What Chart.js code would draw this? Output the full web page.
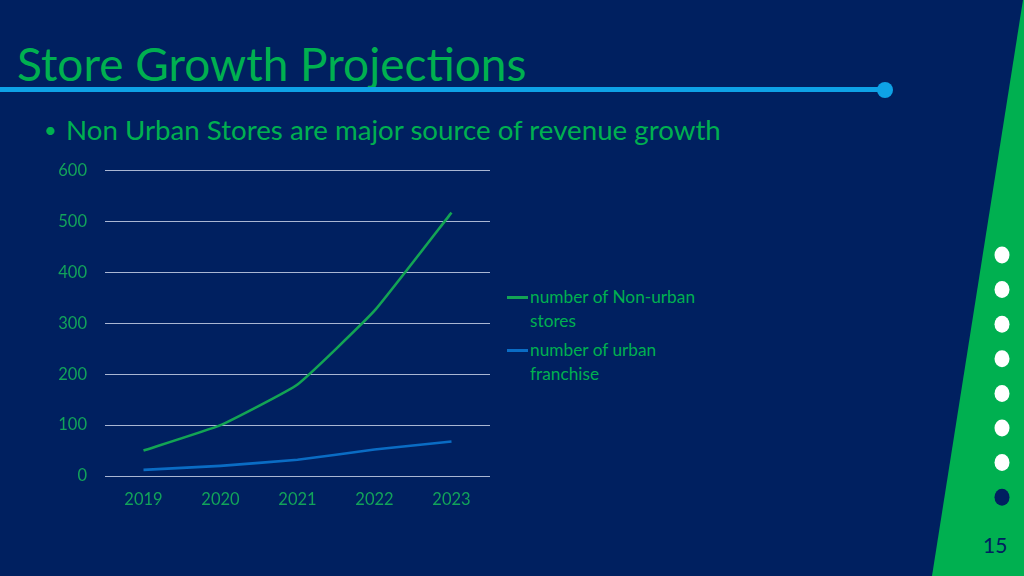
<!DOCTYPE html>
<html>
<head>
<meta charset="utf-8">
<script src="https://cdn.jsdelivr.net/npm/chart.js@4/dist/chart.umd.min.js"></script>
<style>
  html, body { margin: 0; padding: 0; }
  body { width: 1024px; height: 576px; background: #002060; position: relative; overflow: hidden; font-family: Lato, "Open Sans", sans-serif; }
  .title { position: absolute; left: 17px; top: 36px; font-size: 46px; color: #00b050; white-space: nowrap; line-height: 56px; }
  .rule { position: absolute; left: 0; top: 87px; width: 885px; height: 5px; background: #0ea2e6; }
  .knob { position: absolute; left: 877px; top: 82px; width: 16px; height: 16px; border-radius: 50%; background: #0ea2e6; }
  .bullet { position: absolute; left: 44px; top: 113px; font-size: 27.7px; color: #00b050; white-space: nowrap; line-height: 34px; }
  .bullet span { display: inline-block; width: 22px; font-size: 22px; vertical-align: 2px; }
  #wrap { position: absolute; left: 40px; top: 143px; width: 460px; height: 377px; }
  #legend { position: absolute; left: 507px; top: 285px; width: 220px; font-size: 17.3px; color: #00b050; }
  .item { position: relative; padding-left: 23px; line-height: 24px; margin-bottom: 5px; white-space: nowrap; }
  .item i { position: absolute; left: 0; top: 11px; width: 21px; height: 3px; }
  #side { position: absolute; left: 0; top: 0; }
  .pg { position: absolute; left: 983px; top: 532px; font-size: 21px; color: #002060; }
</style>
</head>
<body>
<svg id="side" width="1024" height="576">
  <polygon points="1023,0 1024,0 1024,576 932,576" fill="#00b050"/>
</svg>
<div class="title">Store Growth Projections</div>
<div class="rule"></div>
<div class="knob"></div>
<div class="bullet"><span>•</span>Non Urban Stores are major source of revenue growth</div>
<div id="wrap"><canvas id="growthChart"></canvas></div>
<div id="legend"></div>
<div class="pg">15</div>
<script>
  const years = ['2019', '2020', '2021', '2022', '2023'];
  const nonUrbanStores = [50, 100, 180, 325, 518];
  const urbanFranchise = [12, 20, 32, 52, 68];
  const seriesNames = ['number of Non-urban stores', 'number of urban franchise'];
  const seriesColors = ['#13a454', '#0a6cc4'];
  const navDots = [0, 0, 0, 0, 0, 0, 0, 1];

  // right-hand navigation dots
  const svg = document.getElementById('side');
  navDots.forEach((on, i) => {
    const c = document.createElementNS('http://www.w3.org/2000/svg', 'ellipse');
    c.setAttribute('cx', 1002);
    c.setAttribute('cy', 255 + i * 34.6);
    c.setAttribute('rx', 7.5);
    c.setAttribute('ry', 8.5);
    c.setAttribute('fill', on ? '#002060' : '#ffffff');
    svg.appendChild(c);
  });

  const tickFont = { family: 'Lato', size: 16.5 };
  const tickColor = '#12a35a';

  const chart = new Chart(document.getElementById('growthChart'), {
    type: 'line',
    data: {
      labels: years,
      datasets: [{
        label: seriesNames[0],
        data: nonUrbanStores,
        borderColor: seriesColors[0],
        borderWidth: 2.6,
        pointRadius: 0,
        tension: 0.12
      }, {
        label: seriesNames[1],
        data: urbanFranchise,
        borderColor: seriesColors[1],
        borderWidth: 2.6,
        pointRadius: 0,
        tension: 0.12
      }]
    },
    options: {
      responsive: true,
      maintainAspectRatio: false,
      animation: false,
      layout: { padding: { top: 0, right: 10, left: 0, bottom: 0 } },
      plugins: { legend: { display: false }, tooltip: { enabled: false } },
      scales: {
        x: {
          offset: true,
          grid: { display: false, drawTicks: false },
          border: { display: false },
          ticks: { color: tickColor, font: tickFont, padding: 14 },
          afterFit: s => { s.height = 44; }
        },
        y: {
          min: 0,
          max: 600,
          ticks: { stepSize: 100, color: tickColor, font: tickFont, padding: 18 },
          grid: { color: '#a9b6d3', lineWidth: 1, drawTicks: false },
          border: { display: false },
          afterFit: s => { s.width = 65; }
        }
      }
    }
  });

  // legend with wrapped labels, built from the datasets
  const legend = document.getElementById('legend');
  chart.data.datasets.forEach(ds => {
    const d = document.createElement('div');
    d.className = 'item';
    d.innerHTML = '<i style="background:' + ds.borderColor + '"></i>' + ds.label.replace(/ (stores|franchise)$/, '<br>$1');
    legend.appendChild(d);
  });
</script>
</body>
</html>
